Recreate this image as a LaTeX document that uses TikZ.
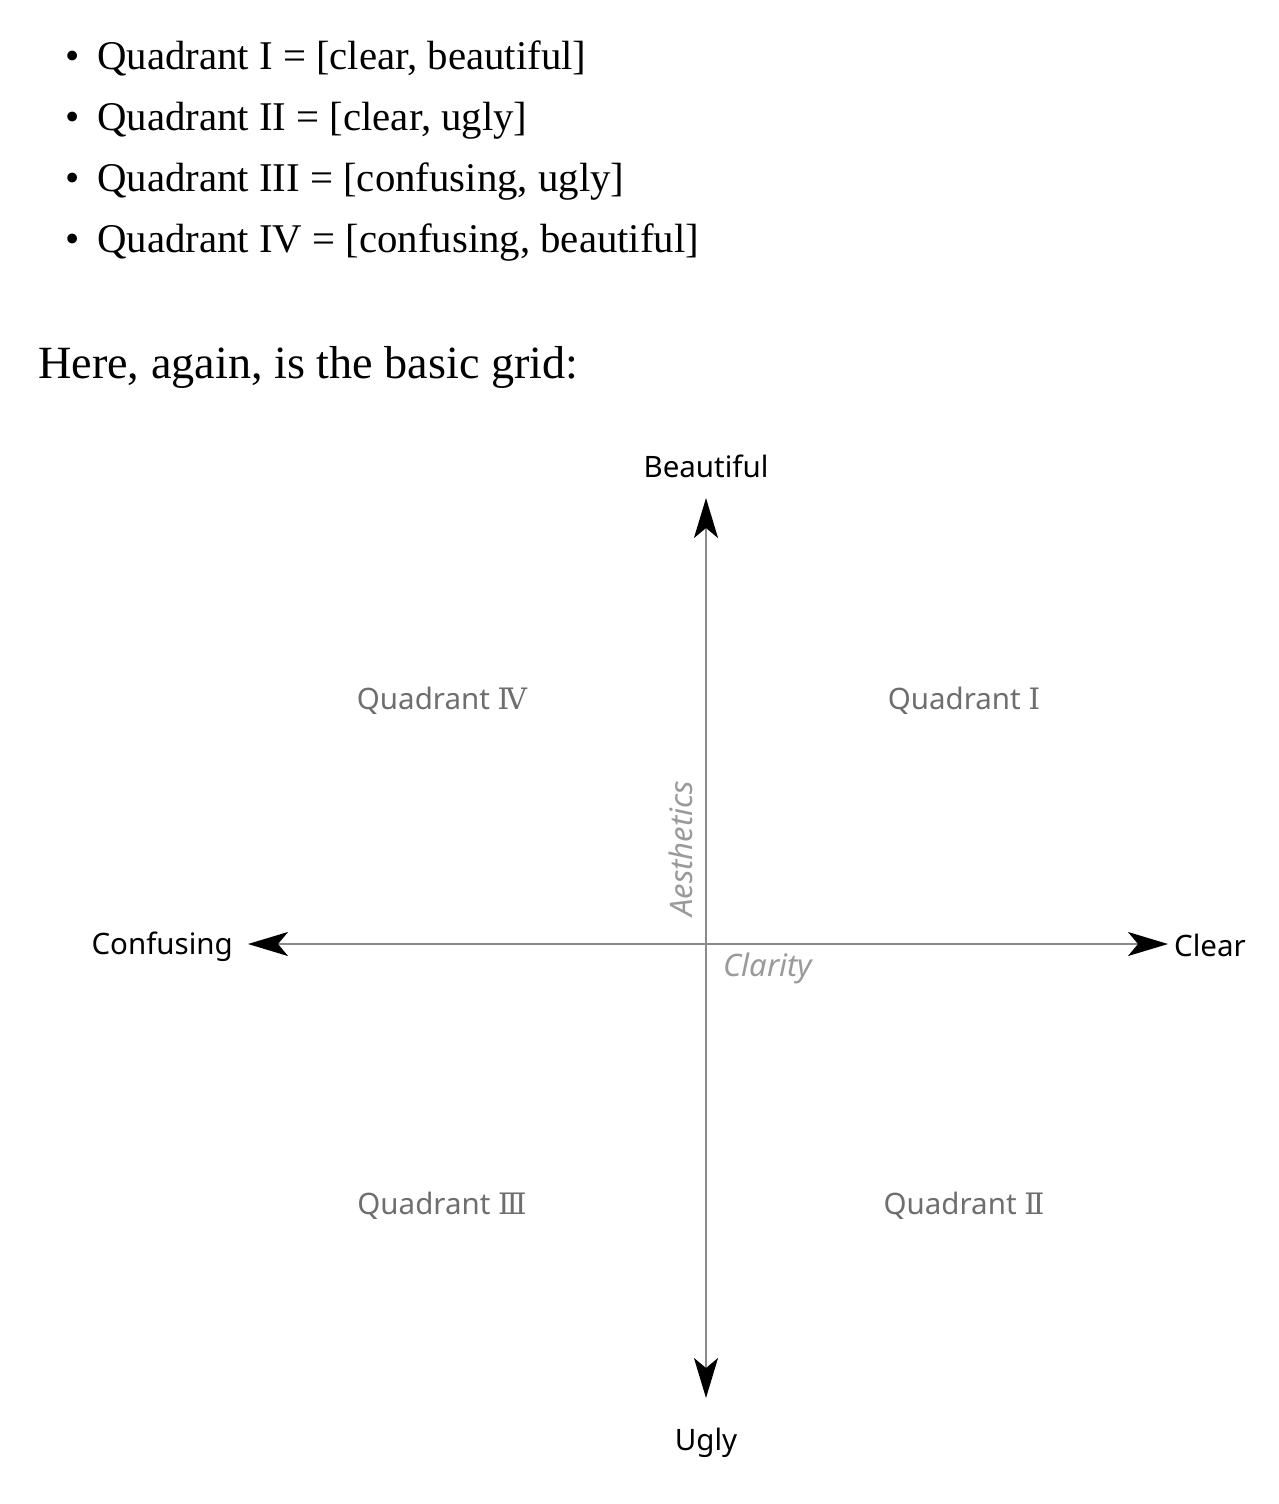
\documentclass[tikz,border=0pt]{standalone}
\usepackage{fontspec}
\setmainfont{Liberation Serif}
\newfontfamily\diagfont{Noto Sans}
\newfontfamily\romfont{DejaVu Serif}
\usetikzlibrary{arrows.meta,positioning}
\definecolor{axisgray}{HTML}{8A8A8A}
\definecolor{quadgray}{HTML}{6E6E6E}
\definecolor{dimgray}{HTML}{9A9A9A}

\begin{document}
\begin{tikzpicture}[x=1pt,y=-1pt,
        axis/.style={draw=axisgray,line width=2pt,
            {Stealth[black,length=40pt,width=24pt,inset=10pt]}-{Stealth[black,length=40pt,width=24pt,inset=10pt]}},
        lbl/.style={inner sep=0pt,font=\diagfont\fontsize{29.5}{35}\selectfont},
        quad/.style={lbl,text=quadgray,anchor=base},
        dim/.style={inner sep=0pt,text=dimgray,font=\diagfont\itshape\fontsize{31}{37}\selectfont},
        item/.style={inner sep=0pt,anchor=base west,font=\fontsize{40.8}{48}\selectfont}]
        \useasboundingbox (0,0) rectangle (1278,1504);

        % list above the grid
        \foreach \txt [count=\i] in {{Quadrant I = [clear, beautiful]},{Quadrant II = [clear, ugly]},
                {Quadrant III = [confusing, ugly]},{Quadrant IV = [confusing, beautiful]}} {
            \node[item] (dot\i)  at (65,{70+60.7*(\i-1)}) {\textbullet};
            \node[item] (item\i) at (97,{70+60.7*(\i-1)}) {\txt};
        }
        \node[item,font=\fontsize{46.2}{54}\selectfont] (intro) at (38,378) {Here, again, is the basic grid:};

        % axes
        \coordinate (O)    at (706,944);
        \coordinate (ttip) at (706,498);
        \coordinate (btip) at (706,1398);
        \coordinate (ltip) at (248,944);
        \coordinate (rtip) at (1168,944);
        \draw[axis] (ltip) -- (rtip);
        \draw[axis] (btip) -- (ttip);

        \node[lbl] (beautiful) [above=20pt of ttip]            {Beautiful};
        \node[lbl] (ugly)      [below=30pt of btip]            {Ugly};
        \node[lbl] (confusing) [left=15pt of ltip,yshift=-3pt] {Confusing};
        \node[lbl] (clear)     [right=6pt of rtip,yshift=-1pt] {Clear};

        \node[dim,rotate=90,anchor=base west] (aesthetics) at (692,917) {Aesthetics};
        \node[dim,anchor=base west]           (clarity)    at (723,976) {Clarity};

        \node[quad] (q4) at (442,709)  {Quadrant {\romfont Ⅳ}};
        \node[quad] (q1) at (964,709)  {Quadrant {\romfont Ⅰ}};
        \node[quad] (q3) at (442,1214) {Quadrant {\romfont Ⅲ}};
        \node[quad] (q2) at (964,1214) {Quadrant {\romfont Ⅱ}};
    \end{tikzpicture}
\end{document}
